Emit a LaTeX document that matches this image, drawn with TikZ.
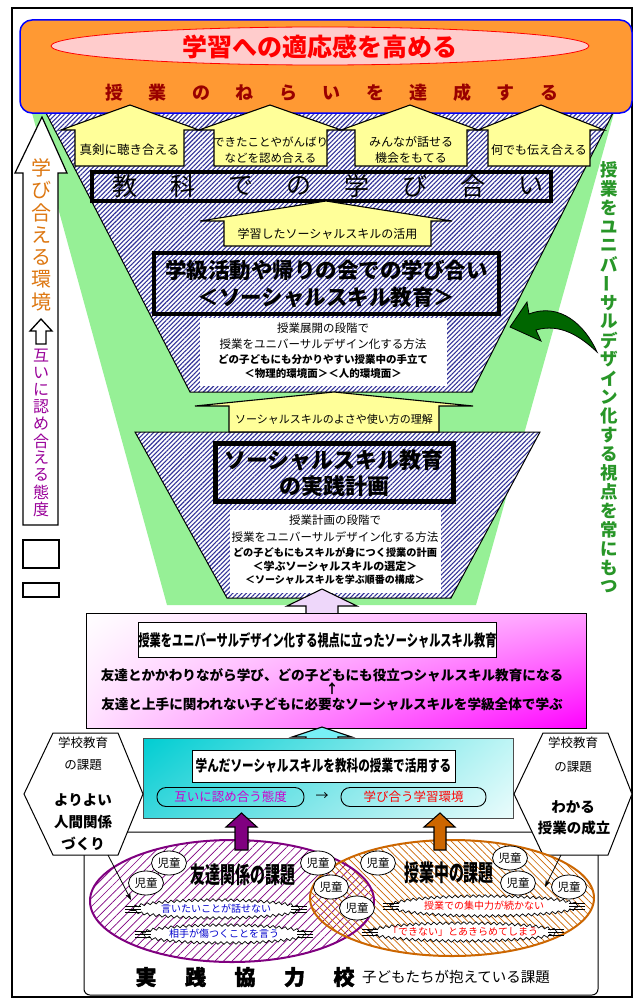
\documentclass[tikz,border=0pt]{standalone}
\usepackage{fontspec}
\usepackage{graphicx}
\setmainfont{Noto Sans CJK JP}
\newfontfamily\heavyfont{Noto Sans CJK JP}[FakeBold=2]
\usetikzlibrary{patterns,patterns.meta,decorations.pathmorphing,arrows.meta,shapes.geometric,shadings}
\newcommand{\fs}[1]{\fontsize{#1}{#1}\selectfont}
\newcommand{\vbar}{\rotatebox[origin=c]{90}{ー}}
\definecolor{orangebox}{RGB}{255,153,51}
\definecolor{pinkell}{RGB}{255,204,204}
\definecolor{darkred}{RGB}{153,0,0}
\definecolor{ylw}{RGB}{255,255,153}
\definecolor{hatchblue}{RGB}{51,51,153}
\definecolor{lgreen}{RGB}{150,240,150}
\definecolor{dgreen}{RGB}{0,102,0}
\definecolor{vgreen}{RGB}{40,150,40}
\definecolor{orangetxt}{RGB}{221,119,17}
\definecolor{purpletxt}{RGB}{153,0,153}
\definecolor{lav}{RGB}{238,215,250}
\definecolor{magtxt}{RGB}{204,0,204}
\definecolor{purp}{RGB}{128,0,128}
\definecolor{orng}{RGB}{204,102,0}
\definecolor{bluetxt}{RGB}{0,0,204}
\definecolor{cyanA}{RGB}{120,240,245}
\definecolor{pkUR}{RGB}{255,160,255}
\definecolor{pkLL}{RGB}{255,225,255}
\definecolor{cyUL}{RGB}{0,205,210}
\definecolor{cyLL}{RGB}{60,215,220}
\definecolor{cyUR}{RGB}{190,245,245}
\definecolor{cyLR}{RGB}{235,252,252}
% block arrow: [fill]{body l}{body r}{head l}{head r}{tip x}{tip y}{head y}{bottom y}
\newcommand{\yarr}[9][ylw]{%
  \path[fill=#1,draw=black,line width=1.1pt,line join=miter]
    (#2,#9) -- (#2,#8) -- (#4,#8) -- (#6,#7) -- (#5,#8) -- (#3,#8) -- (#3,#9) -- cycle;}
% explosion bubble: {cx}{cy}{rx}{ry}{text}{colour}
\newcommand{\bub}[6]{%
  \draw[fill=white,line width=0.7pt,decorate,decoration={zigzag,segment length=6pt,amplitude=1.3pt}]
    (#1,#2) ellipse [x radius=#3pt, y radius=#4pt];
  \foreach \dy in {-3,0,3}{%
    \draw[line width=0.7pt] ({#1-#3-7},{#2+\dy}) -- ({#1-#3+9},{#2+\dy});
    \draw[line width=0.7pt] ({#1+#3+7},{#2+\dy}) -- ({#1+#3-9},{#2+\dy});}
  \node[text=#6,font=\fs{10}] at (#1,#2) {#5};}
\begin{document}
\begin{tikzpicture}[x=1pt,y=-1pt,
  every node/.style={inner sep=0pt},
  hatchb/.style={pattern={Lines[angle=45,distance=3.2pt,line width=1.1pt]},pattern color=hatchblue},
  fatbox/.style={draw=black,line width=4.5pt},
  chibox/.style={draw=black,fill=white,ellipse,line width=0.8pt,minimum width=35pt,minimum height=24pt,font=\fs{11.5}},
  thinarr/.style={-{Stealth[length=7pt,width=5pt]},line width=0.8pt}]
\fill[white] (0,0) rectangle (640,998);
\useasboundingbox (0,0) rectangle (640,998);
% green funnel
\fill[lgreen] (32,113) -- (614,113) -- (476,605) -- (167,605) -- cycle;
% hatched funnel 1
\fill[white] (46,113) -- (613,113) -- (472,392) -- (190,392) -- cycle;
\fill[hatchb] (46,113) -- (613,113) -- (472,392) -- (190,392) -- cycle;
\draw[line width=1pt] (46,113) -- (190,392) -- (472,392) -- (613,113);
% hatched trapezoid 2
\fill[white] (135,432) -- (540,432) -- (451,598) -- (227,598) -- cycle;
\fill[hatchb] (135,432) -- (540,432) -- (451,598) -- (227,598) -- cycle;
\draw[line width=1pt] (135,432) -- (540,432) -- (451,598) -- (227,598) -- cycle;
% outer frame
\draw[line width=1.5pt] (12,8) rectangle (632,997);
% top orange box
\draw[fill=orangebox,draw=blue,line width=1.5pt,rounded corners=12pt] (20,20) rectangle (632,113);
\draw[fill=pinkell,draw=red,line width=0.8pt] (320,46) ellipse [x radius=269pt,y radius=19pt];
\node[font=\bfseries\fs{25},text=red] (title) at (320,47) {学習への適応感を高める};
\foreach \c [count=\i from 0] in {授,業,の,ね,ら,い,を,達,成,す,る}
  \node[font=\bfseries\fs{18},text=darkred] (n\i) at (114+43.5*\i,93) {\c};
% four arrows
\yarr{75}{184}{61}{199}{130}{105}{130}{166}
\yarr{214}{327}{199}{341}{270}{105}{130}{166}
\yarr{355}{467}{341}{478}{410}{105}{130}{166}
\yarr{488}{590}{478}{604}{541}{105}{130}{166}
\node[font=\fs{12.5}] (a1t) at (129.5,150) {真剣に聴き合える};
\node[font=\fontsize{11.5}{16}\selectfont,align=center] (a2t) at (270.5,150) {できたことやがんばり\\などを認め合える};
\node[font=\fontsize{12}{16}\selectfont,align=center] (a3t) at (411,150) {みんなが話せる\\機会をもてる};
\node[font=\fs{12}] (a4t) at (539,150) {何でも伝え合える};
% kyouka box
\node[draw=black,line width=4pt,minimum width=459pt,minimum height=29pt] (kyouka) at (321.5,186) {};
\foreach \c [count=\i from 0] in {教,科,で,の,学,び,合,い}
  \node[font=\fs{25}] (k\i) at (124.5+58*\i,186) {\c};
% arrow 5
\yarr{224}{431}{200}{452}{326}{201}{221}{246}
\node[font=\fs{12}] (a5t) at (327.5,234) {学習したソーシャルスキルの活用};
% gakkyu box
\node[fatbox,minimum width=345pt,minimum height=61pt] (gakkyu) at (326.5,283.5) {};
\node[font=\bfseries\fs{21.5}] (g1) at (326.5,270) {学級活動や帰りの会での学び合い};
\node[font=\bfseries\fs{21.5}] (g2) at (326.5,297) {＜ソーシャルスキル教育＞};
% white box 1
\fill[white] (200,318) rectangle (447,386);
\node[font=\fs{11.5}] (w1a) at (323,328) {授業展開の段階で};
\node[font=\fs{11.5}] (w1b) at (323,344) {授業をユニバーサルデザイン化する方法};
\node[font=\bfseries\fs{10.5}] (w1c) at (323,360) {どの子どもにも分かりやすい授業中の手立て};
\node[font=\bfseries\fs{10.5}] (w1d) at (323,374) {＜物理的環境面＞＜人的環境面＞};
% green curved arrow
\fill[dgreen,draw=black,line width=0.8pt,line join=miter]
  (510,327) -- (527,302) -- (529,314) .. controls (560,302) and (585,325) .. (597,352)
  .. controls (580,336) and (560,323) .. (536,330) -- (541,341) -- cycle;
% arrow 6
\yarr{229}{439}{195}{473}{334}{392}{406}{432}
\node[font=\fs{11}] (a6t) at (334,419) {ソーシャルスキルのよさや使い方の理解};
% social skill plan box
\node[draw=black,line width=5pt,minimum width=238pt,minimum height=58pt] (ssbox) at (334,472.5) {};
\node[font=\bfseries\fs{22}] (s1) at (334,460) {ソーシャルスキル教育};
\node[font=\bfseries\fs{22}] (s2) at (334,486) {の実践計画};
% white box 2
\fill[white] (230,510) rectangle (441,593);
\node[font=\fs{11.5}] (w2a) at (335,520) {授業計画の段階で};
\node[font=\fs{11.5}] (w2b) at (335,537) {授業をユニバーサルデザイン化する方法};
\node[font=\bfseries\fs{10.2}] (w2c) at (335,553) {どの子どもにもスキルが身につく授業の計画};
\node[font=\bfseries\fs{11}] (w2d) at (335,566) {＜学ぶソーシャルスキルの選定＞};
\node[font=\bfseries\fs{10}] (w2e) at (335,580) {＜ソーシャルスキルを学ぶ順番の構成＞};
% left column
\draw[fill=white,line width=1.2pt,line join=miter] (23,525) -- (23,173) -- (15,173) -- (42,117) -- (67,173) -- (58,173) -- (58,525) -- cycle;
\foreach \c [count=\i from 0] in {学,び,合,え,る,環,境}
  \node[font=\fs{20},text=orangetxt] (lo\i) at (41,168+22.3*\i) {\c};
\draw[fill=white,line width=1.3pt,line join=miter] (36,344) -- (36,331) -- (30,331) -- (41,319) -- (52,331) -- (46,331) -- (46,344) -- cycle;
\foreach \c [count=\i from 0] in {互,い,に,認,め,合,え,る,態,度}
  \node[font=\fs{16},text=purpletxt] (lp\i) at (41,356+17*\i) {\c};
\draw[line width=1.2pt] (23,540) rectangle (59,568);
\draw[line width=1.2pt] (23,583) rectangle (59,597);
% right column
\foreach \c [count=\i from 0] in {授,業,を,ユ,ニ,バ,\vbar,サ,ル,デ,ザ,イ,ン,化,す,る,視,点,を,常,に,も,つ}
  \node[font=\bfseries\fs{17.5},text=vgreen] (rv\i) at (609,170+18.95*\i) {\c};
% lavender arrow + pink box
\yarr[lav]{306}{338}{287}{357}{322}{589}{606}{614}
\shade[upper left=white,upper right=pkUR,lower left=pkLL,lower right=magenta] (86,613) rectangle (586,728);
\draw[line width=0.8pt] (86,613) rectangle (586,728);
\node[draw=black,fill=white,line width=1pt,minimum width=349pt,minimum height=35pt] (pinner) at (317.5,640)
  {\bfseries\fs{16}\scalebox{0.7}[1]{授業をユニバーサルデザイン化する視点に立ったソーシャルスキル教育}};
\node[font=\bfseries\fs{13.6}] (p1) at (332,675) {友達とかかわりながら学び、どの子どもにも役立つシャルスキル教育になる};
\node[font=\bfseries\fs{13}] (p2) at (332,689) {↑};
\node[font=\bfseries\fs{13.6}] (p3) at (332,704) {友達と上手に関われない子どもに必要なソーシャルスキルを学級全体で学ぶ};
% cyan arrow + cyan box
\yarr[cyanA]{306}{338}{292}{352}{322}{727}{737}{740}
\shade[upper left=cyUL,upper right=cyUR,lower left=cyLL,lower right=cyLR] (143,738) rectangle (513,818);
\draw[line width=0.6pt,draw=black!70] (143,738) rectangle (513,818);
\node[draw=black,fill=white,line width=0.8pt,minimum width=263pt,minimum height=32pt] (cinner) at (323.5,766)
  {\bfseries\fs{15.5}\scalebox{0.75}[1]{学んだソーシャルスキルを教科の授業で活用する}};
\node[draw=black,rounded corners=9pt,line width=0.9pt,minimum width=147pt,minimum height=19pt,font=\fs{12.5},text=magtxt] (cap1) at (230.5,797) {互いに認め合う態度};
\node[font=\fs{13}] (carr) at (322,797) {→};
\node[draw=black,rounded corners=9pt,line width=0.9pt,minimum width=145pt,minimum height=19pt,font=\fs{12.5},text=red] (cap2) at (413.5,797) {学び合う学習環境};
% bottom box
\draw[fill=white,line width=1pt,rounded corners=6pt] (84,832) rectangle (598,995);
% hexagons
\draw[fill=white,line width=1pt] (53,733) -- (118,733) -- (143,794) -- (118,855) -- (53,855) -- (24,794) -- cycle;
\draw[fill=white,line width=1pt] (543,733) -- (608,733) -- (632,794) -- (608,855) -- (543,855) -- (514,794) -- cycle;
\node[font=\fs{12.5}] (hl1) at (83,743) {学校教育};
\node[font=\fs{12.5}] (hl2) at (83,765) {の課題};
\node[font=\bfseries\fs{14.5}] (hl3) at (83,800) {よりよい};
\node[font=\bfseries\fs{14.5}] (hl4) at (83,822) {人間関係};
\node[font=\bfseries\fs{14.5}] (hl5) at (83,844) {づくり};
\node[font=\fs{12.5}] (hr1) at (573,743) {学校教育};
\node[font=\fs{12.5}] (hr2) at (573,767) {の課題};
\node[font=\bfseries\fs{14.5}] (hr3) at (573,807) {わかる};
\node[font=\bfseries\fs{14.5}] (hr4) at (574,828) {授業の成立};
% venn
\fill[white] (232,901) ellipse [x radius=142pt,y radius=61pt];
\fill[white] (452,898) ellipse [x radius=142pt,y radius=58pt];
\fill[pattern={Lines[angle=45,distance=6pt,line width=0.7pt]},pattern color=purp] (232,901) ellipse [x radius=142pt,y radius=61pt];
\fill[pattern={Lines[angle=-45,distance=5pt,line width=0.7pt]},pattern color=orng] (452,898) ellipse [x radius=142pt,y radius=58pt];
\draw[purp,line width=2pt] (232,901) ellipse [x radius=142pt,y radius=61pt];
\draw[orng,line width=2pt] (452,898) ellipse [x radius=142pt,y radius=58pt];
% block arrows up
\yarr[purp]{235}{248}{226}{257}{241.5}{813}{827}{850}
\yarr[orng]{434}{446}{424}{455}{440}{813}{827}{850}
% titles
\node[font=\bfseries\fs{23}] (tomo) at (243,875) {\scalebox{0.65}[1]{友達関係の課題}};
\node[font=\bfseries\fs{23}] (jugyo) at (449,873) {\scalebox{0.65}[1]{授業中の課題}};
% children
\foreach \p [count=\i] in {(169,863),(146,883),(318,863),(331,887),(357,908),(378,863),(510,858),(518,883),(569,887)}
  \node[chibox] (c\i) at \p {児童};
% bubbles
\bub{216}{909}{84}{9}{言いたいことが話せない}{bluetxt}
\bub{224}{934}{82}{9}{相手が傷つくことを言う}{bluetxt}
\bub{484}{906}{94}{10}{授業での集中力が続かない}{red}
\bub{463}{932}{94}{9}{「できない」とあきらめてしまう}{red}
% thin arrows
\coordinate (la1) at (108,855);
\coordinate (la2) at (131,900);
\coordinate (ra1) at (561,855);
\coordinate (ra2) at (545,887);
\draw[thinarr] (la1) -- (la2);
\draw[thinarr] (ra1) -- (ra2);
% bottom text
\foreach \c [count=\i from 0] in {実,践,協,力,校}
  \node[font=\heavyfont\bfseries\fs{21}] (b\i) at (146+49.5*\i,977) {\c};
\node[font=\fs{14.5}] (bt) at (456,977) {子どもたちが抱えている課題};
\end{tikzpicture}
\end{document}
